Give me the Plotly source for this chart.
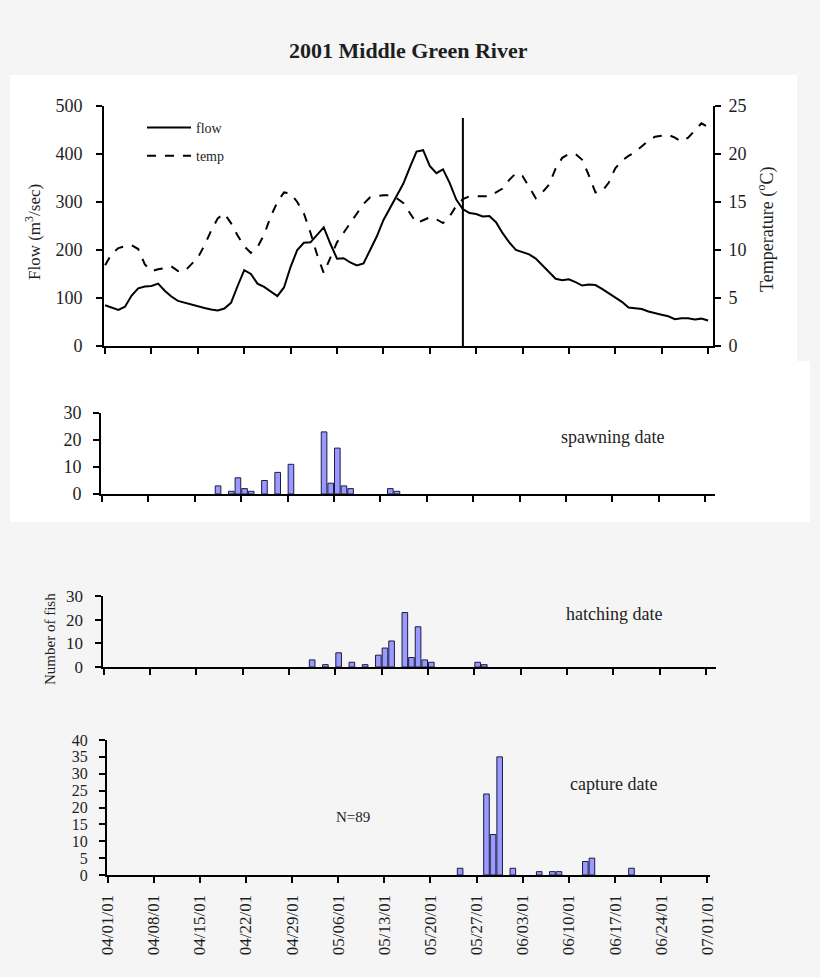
import pandas as pd
import plotly.graph_objects as go

# ---------------- data ----------------
season_start = "2001-04-01"
season_end = "2001-07-01"
flow_dates = pd.date_range(season_start, season_end, freq="D")

flow_m3s = [85, 80, 75, 82, 105, 120, 124, 125, 130, 115,
            103, 94, 90, 86, 83, 79, 76, 74, 78, 90,
            125, 158, 150, 130, 123, 113, 104, 122, 165, 200,
            215, 216, 232, 247, 213, 182, 183, 174, 168, 172,
            200, 228, 262, 288, 312, 338, 372, 405, 408, 375,
            360, 368, 340, 305, 285, 277, 275, 270, 271, 258,
            235, 216, 200, 195, 191, 182, 168, 155, 140, 137,
            139, 133, 126, 128, 127, 119, 110, 102, 92, 80,
            78, 77, 72, 68, 65, 62, 56, 58, 58, 55,
            57, 53]

temp_c = [8.4, 9.6, 10.2, 10.4, 10.5, 10.1, 8.5, 7.8, 8.0, 8.1,
          8.3, 7.8, 7.8, 8.5, 9.2, 10.5, 12.0, 13.3, 13.8, 12.8,
          11.5, 10.4, 9.7, 10.3, 11.6, 13.5, 15.0, 16.0, 15.9, 15.0,
          13.8, 11.8, 9.5, 7.6, 9.2, 10.8, 11.8, 12.8, 13.7, 14.8,
          15.5, 15.6, 15.7, 15.7, 15.4, 14.9, 13.8, 12.8, 13.1, 13.4,
          13.2, 12.8, 13.5, 14.6, 15.3, 15.6, 15.6, 15.6, 15.6, 16.0,
          16.4, 17.3, 18.0, 17.7, 16.5, 15.4, 16.0, 16.8, 18.5, 19.6,
          20.0, 20.0, 19.4, 17.8, 16.0, 16.1, 17.0, 18.5, 19.3, 19.8,
          20.2, 20.8, 21.4, 21.8, 21.9, 22.0, 21.7, 21.3, 21.7, 22.5,
          23.2, 22.8]

cutoff_date = "2001-05-25"

spawn_dates = ["2001-04-18", "2001-04-20", "2001-04-21", "2001-04-22", "2001-04-23",
               "2001-04-25", "2001-04-27", "2001-04-29", "2001-05-04", "2001-05-05",
               "2001-05-06", "2001-05-07", "2001-05-08", "2001-05-14", "2001-05-15"]
spawn_counts = [3, 1, 6, 2, 1, 5, 8, 11, 23, 4, 17, 3, 2, 2, 1]

hatch_dates = ["2001-05-02", "2001-05-04", "2001-05-06", "2001-05-08", "2001-05-10",
               "2001-05-12", "2001-05-13", "2001-05-14", "2001-05-16", "2001-05-17",
               "2001-05-18", "2001-05-19", "2001-05-20", "2001-05-27", "2001-05-28"]
hatch_counts = [3, 1, 6, 2, 1, 5, 8, 11, 23, 4, 17, 3, 2, 2, 1]

capture_dates = ["2001-05-24", "2001-05-28", "2001-05-29", "2001-05-30", "2001-06-01",
                 "2001-06-05", "2001-06-07", "2001-06-08", "2001-06-12", "2001-06-13",
                 "2001-06-19"]
capture_counts = [2, 24, 12, 35, 2, 1, 1, 1, 4, 5, 2]

# ---------------- figure ----------------
W, H = 820, 977
SERIF = "Liberation Serif"
DAY = 86400000
BAR_FILL = "#9999ff"
BAR_LINE = "#1c1c40"
TXT = "#1e1e1e"

def px(x):
    return x / W

def py(y):
    return 1 - y / H

fig = go.Figure()

fig.add_trace(go.Scatter(x=flow_dates, y=flow_m3s, mode="lines", name="flow",
                         line=dict(color="black", width=2), legendgroup="a",
                         xaxis="x", yaxis="y"))
fig.add_trace(go.Scatter(x=flow_dates, y=temp_c, mode="lines", name="temp",
                         line=dict(color="black", width=2, dash="dash"), legendgroup="b",
                         xaxis="x", yaxis="y2"))

bar_style = dict(marker=dict(color=BAR_FILL, line=dict(color=BAR_LINE, width=1)),
                 width=0.85 * DAY, xperiod=DAY, xperiodalignment="middle",
                 showlegend=False)
fig.add_trace(go.Bar(x=spawn_dates, y=spawn_counts, xaxis="x3", yaxis="y3", **bar_style))
fig.add_trace(go.Bar(x=hatch_dates, y=hatch_counts, xaxis="x4", yaxis="y4", **bar_style))
fig.add_trace(go.Bar(x=capture_dates, y=capture_counts, xaxis="x5", yaxis="y5", **bar_style))

axis_common = dict(showline=True, linewidth=2, linecolor="black", ticks="outside",
                   ticklen=6, tickwidth=2, tickcolor="black", showgrid=False,
                   zeroline=False, automargin=False)

def xaxis(domain, rng, labels=False, anchor="y"):
    d = dict(axis_common)
    d.update(type="date", domain=domain, range=rng, tick0=season_start, dtick=7 * DAY,
             showticklabels=labels, anchor=anchor)
    if labels:
        d.update(tickformat="%m/%d/%y", tickangle=-90,
                 tickfont=dict(family=SERIF, size=17, color=TXT), ticklabelstandoff=5)
    return d

def yaxis(domain, rng, dtick, anchor, size=16, standoff=8, **kw):
    d = dict(axis_common)
    d.update(domain=domain, range=rng, dtick=dtick, anchor=anchor,
             tickfont=dict(family=SERIF, size=size, color=TXT), ticklabelstandoff=standoff)
    d.update(kw)
    return d

def label(text, x, y, size, angle=0, bold=False):
    return dict(text=("<b>%s</b>" % text) if bold else text, x=px(x), y=py(y),
                xref="paper", yref="paper", xanchor="center", yanchor="middle",
                showarrow=False, textangle=angle,
                font=dict(family=SERIF, size=size, color=TXT))

fig.update_layout(
    width=W, height=H,
    autosize=False,
    margin=dict(l=0, r=0, t=0, b=0, pad=0, autoexpand=False),
    paper_bgcolor="#f5f5f5",
    plot_bgcolor="rgba(0,0,0,0)",
    bargap=0.1,
    font=dict(family=SERIF, color=TXT),
    xaxis=xaxis([px(104), px(713)], ["2001-03-31 20:00", "2001-07-01 18:00"], anchor="y"),
    yaxis=yaxis([py(346), py(106)], [0, 500], 100, "x", size=18, standoff=10),
    yaxis2=yaxis([py(346), py(106)], [0, 25], 5, "x", size=18, standoff=4,
                 overlaying="y", side="right"),
    xaxis3=xaxis([px(101), px(715)], ["2001-03-31 20:00", "2001-07-02 12:00"], anchor="y3"),
    yaxis3=yaxis([py(494), py(413)], [0, 30], 10, "x3", size=18),
    xaxis4=xaxis([px(102.5), px(716)], ["2001-03-31 20:00", "2001-07-02 12:00"], anchor="y4"),
    yaxis4=yaxis([py(667), py(596)], [0, 30], 10, "x4", size=17),
    xaxis5=xaxis([px(107), px(710)], ["2001-03-31 22:00", "2001-07-01 10:00"], labels=True,
                 anchor="y5"),
    yaxis5=yaxis([py(875), py(740)], [0, 40], 5, "x5", size=16),
    showlegend=True,
    legend=dict(x=px(142), y=py(112), xanchor="left", yanchor="top",
                bgcolor="rgba(0,0,0,0)", font=dict(family=SERIF, size=14, color=TXT),
                traceorder="grouped", tracegroupgap=7, itemwidth=44),
    shapes=[
        dict(type="rect", xref="paper", yref="paper", x0=px(10), x1=px(797),
             y0=py(361), y1=py(75), fillcolor="white", line=dict(width=0), layer="below"),
        dict(type="rect", xref="paper", yref="paper", x0=px(10), x1=px(810),
             y0=py(522), y1=py(361), fillcolor="white", line=dict(width=0), layer="below"),
        dict(type="line", xref="x", yref="y domain", x0=cutoff_date, x1=cutoff_date,
             y0=0, y1=0.95, line=dict(color="black", width=2)),
    ],
    annotations=[
        label("2001 Middle Green River", 408, 50, 22, bold=True),
        label("Flow (m<sup>3</sup>/sec)", 33, 232, 17, angle=-90),
        label("Temperature (<sup>o</sup>C)", 766, 230, 18, angle=-90),
        label("spawning date", 612, 437, 18),
        label("Number of fish", 50, 639, 15, angle=-90),
        label("hatching date", 614, 614, 18),
        label("capture date", 613, 784, 18),
        label("N=89", 353, 817, 15),
    ],
)

fig.write_html("out.html",
               config={"displayModeBar": False},
               post_script="document.body.style.margin='0';document.body.style.background='#f5f5f5';")
